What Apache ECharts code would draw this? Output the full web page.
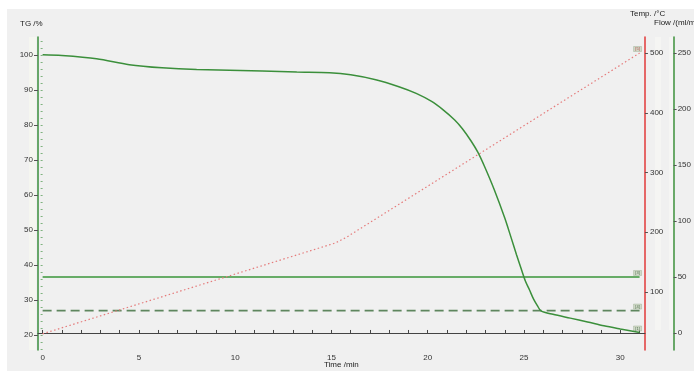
<!DOCTYPE html>
<html>
<head>
<meta charset="utf-8">
<script src="https://cdn.jsdelivr.net/npm/echarts@6/dist/echarts.min.js"></script>
<style>
  html, body { margin: 0; padding: 0; background: #ffffff; }
  #chart { width: 694px; height: 371px; }
</style>
</head>
<body>
<div id="chart"></div>
<script>
// TG mass curve: [time /min, mass /%]
const tgCurve = [
  [0, 100], [1, 99.8], [2.8, 98.9], [4.5, 97.2], [6.2, 96.3], [8, 95.8],
  [11.4, 95.4], [13.2, 95.1], [14.9, 94.9], [16, 94.3], [17.3, 92.9],
  [18.5, 90.9], [19.4, 89.0], [20.2, 86.7], [20.8, 84.3], [21.4, 81.4],
  [21.8, 78.9], [22.25, 75.4], [22.6, 72.2], [22.95, 68.1], [23.46, 61.4],
  [24.0, 53.4], [24.3, 48.3], [24.61, 42.9], [24.87, 38.6], [25.07, 35.4],
  [25.28, 32.9], [25.49, 30.3], [25.7, 28.3], [25.88, 26.9], [26.5, 25.9],
  [27.4, 24.8], [28.3, 23.7], [29.15, 22.6], [30.0, 21.7], [31.0, 20.7]
];
// Furnace temperature programme: [time /min, temperature /°C]
const tempCurve = [[0, 30], [15.2, 182], [15.8, 192], [31, 500]];
// Purge gas flows: [time /min, flow /(ml/min)]
const flowSolid = [[0, 50], [31, 50]];
const flowDashed = [[0, 20], [31, 20]];

// Curve tags drawn at the right end of each trace
const curveTags = { tg: '[1]', temp: '[5]', flowSolid: '[3]', flowDashed: '[4]' };

// Tick positions
const timeMinorTicks = Array.from({ length: 32 }, (_, i) => i);
const timeLabels = [0, 5, 10, 15, 20, 25, 30];
const tgLabels = [20, 30, 40, 50, 60, 70, 80, 90, 100];
const tgMinorTicks = Array.from({ length: 45 }, (_, i) => 16 + 2 * i);
const tempLabels = [100, 200, 300, 400, 500];
const flowLabels = [0, 50, 100, 150, 200, 250];

const FONT = 'Liberation Sans, Arial, sans-serif';
const GREEN = '#3b8f3b';
const RED = '#e23a3a';

// small boxed tag sitting just above the last point of a trace
function endTag(points, tag, textColor) {
  return {
    silent: true,
    animation: false,
    data: [{
      coord: points[points.length - 1],
      symbol: 'rect', symbolSize: [8, 5], symbolOffset: [-2, -4],
      itemStyle: { color: 'rgba(205,215,195,0.9)', borderColor: 'rgba(150,170,140,0.8)', borderWidth: 0.5 },
      label: { show: true, position: 'inside', formatter: tag, fontSize: 4, color: textColor, fontFamily: FONT }
    }]
  };
}

const chart = echarts.init(document.getElementById('chart'), null, { renderer: 'canvas' });

const tick = (vals, len, color) => ({ show: true, inside: false, length: len, customValues: vals,
  lineStyle: { color: color, width: 1 } });
const lbl = (vals) => ({ customValues: vals, fontSize: 8, color: '#333', fontFamily: FONT, margin: 4 });

chart.setOption({
  backgroundColor: '#ffffff',
  animation: false,
  textStyle: { fontFamily: FONT },
  graphic: [
    { type: 'rect', z: -10, shape: { x: 7, y: 9, width: 700, height: 380 }, style: { fill: '#f0f0f0' } },
    { type: 'rect', z: -9, shape: { x: 29, y: 37, width: 7, height: 313 }, style: { fill: '#f5f6f0' } },
    { type: 'rect', z: -9, shape: { x: 655, y: 37, width: 6, height: 293 }, style: { fill: '#f5f5f3' } },
    { type: 'rect', z: -9, shape: { x: 669, y: 37, width: 6, height: 293 }, style: { fill: '#f5f5f3' } },
    { type: 'text', left: 20, top: 20, style: { text: 'TG /%', fontSize: 8, fill: '#222', fontFamily: FONT } },
    { type: 'text', left: 630, top: 10, style: { text: 'Temp. /°C', fontSize: 8, fill: '#222', fontFamily: FONT } },
    { type: 'text', left: 654, top: 19, style: { text: 'Flow /(ml/min)', fontSize: 8, fill: '#222', fontFamily: FONT } },
    { type: 'text', left: 324, top: 361, style: { text: 'Time /min', fontSize: 8, fill: '#222', fontFamily: FONT } }
  ],
  grid: { left: 38, right: 46, top: 37, bottom: 21, containLabel: false },
  xAxis: {
    type: 'value', min: -0.24, max: 31.28,
    axisLine: { show: true, lineStyle: { color: '#444', width: 1.2 } },
    axisTick: { show: true, inside: true, length: 3, customValues: timeMinorTicks, lineStyle: { color: '#444' } },
    axisLabel: Object.assign(lbl(timeLabels), { margin: 4 }),
    splitLine: { show: false }
  },
  yAxis: [
    {
      type: 'value', min: 15.7, max: 105.1, position: 'left',
      axisLine: { show: true, onZero: false, lineStyle: { color: GREEN, width: 1.5 } },
      axisTick: tick(tgLabels, 4, '#555'),
      axisLabel: Object.assign(lbl(tgLabels), { margin: 5 }),
      splitLine: { show: false }
    },
    {
      type: 'value', min: 2.9, max: 526.8, position: 'right', offset: 0,
      axisLine: { show: true, onZero: false, lineStyle: { color: RED, width: 1.5 } },
      axisTick: tick(tempLabels, 3, '#555'),
      axisLabel: Object.assign(lbl(tempLabels), { margin: 5 }),
      splitLine: { show: false }
    },
    {
      type: 'value', min: -15.2, max: 264.3, position: 'right', offset: 28.7,
      axisLine: { show: true, onZero: false, lineStyle: { color: GREEN, width: 1.5 } },
      axisTick: tick(flowLabels, 3, '#555'),
      axisLabel: Object.assign(lbl(flowLabels), { margin: 4 }),
      splitLine: { show: false }
    },
    {
      // fine graduation along the TG axis
      type: 'value', min: 15.7, max: 105.1, position: 'left',
      axisLine: { show: false },
      axisTick: tick(tgMinorTicks, 2, '#7fb27f'),
      axisLabel: { show: false },
      splitLine: { show: false }
    }
  ],
  series: [
    {
      name: 'Flow 1', type: 'line', yAxisIndex: 2, showSymbol: false, symbol: 'none',
      data: flowSolid, markPoint: endTag(flowSolid, curveTags.flowSolid, '#4d6d4d'),
      lineStyle: { color: '#3a963a', width: 1.3 }, z: 3
    },
    {
      name: 'Flow 2', type: 'line', yAxisIndex: 2, showSymbol: false, symbol: 'none',
      data: flowDashed, markPoint: endTag(flowDashed, curveTags.flowDashed, '#4d6d4d'),
      lineStyle: { color: '#5e865e', width: 1.6, type: [9, 5] }, z: 3
    },
    {
      name: 'Temperature', type: 'line', yAxisIndex: 1, showSymbol: false, symbol: 'none',
      data: tempCurve, markPoint: endTag(tempCurve, curveTags.temp, '#b04848'),
      lineStyle: { color: '#e57b7b', width: 1.2, type: [1.5, 2.5] }, z: 4
    },
    {
      name: 'TG', type: 'line', yAxisIndex: 0, showSymbol: false, symbol: 'none',
      smooth: 0.3,
      data: tgCurve, markPoint: endTag(tgCurve, curveTags.tg, '#4d6d4d'),
      lineStyle: { color: GREEN, width: 1.5 }, z: 5
    }
  ]
});
</script>
</body>
</html>
